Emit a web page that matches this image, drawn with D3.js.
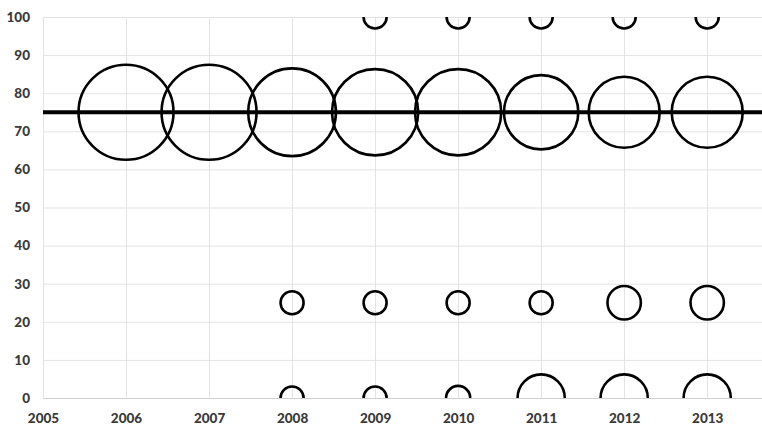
<!DOCTYPE html>
<html>
<head>
<meta charset="utf-8">
<script src="https://cdn.jsdelivr.net/npm/d3@7"></script>
<style>
  html, body { margin: 0; padding: 0; background: #ffffff; }
  svg { display: block; }
  .tick text { font-family: Lato, "Open Sans", sans-serif; font-weight: 900; font-size: 13.5px; fill: #3a3a3a; }
</style>
</head>
<body>
<svg id="chart" width="762" height="427"></svg>
<script>
// ---- data ----
const years = [2006, 2007, 2008, 2009, 2010, 2011, 2012, 2013];
const sizesAt75 = [17, 17, 14.5, 14, 14, 10.4, 9.5, 9.5];
const sizesAt25 = [null, null, 1, 1, 1, 1, 2.1, 2.1];
const sizesAt0 = [null, null, 1, 1, 1.1, 4.2, 4.2, 4.2];
const sizesAt100 = [null, null, null, 1, 1, 1, 1, 1];
const rowValues = [75, 25, 0, 100];
const referenceLine = 75;
const xTickValues = [2005, 2006, 2007, 2008, 2009, 2010, 2011, 2012, 2013];
const yTickValues = [0, 10, 20, 30, 40, 50, 60, 70, 80, 90, 100];

// ---- layout ----
const svg = d3.select("#chart");
const plotLeft = 43, plotRight = 762, plotTop = 17, plotBottom = 398;

const x = d3.scaleLinear().domain([2005, 2013.66]).range([plotLeft, plotRight]);
const y = d3.scaleLinear().domain([0, 100]).range([plotBottom, plotTop]);
const r = d3.scaleSqrt().domain([0, 17]).range([0, 47.5]);

svg.append("defs").append("clipPath").attr("id", "plotClip")
  .append("rect").attr("x", plotLeft).attr("y", plotTop)
  .attr("width", plotRight - plotLeft).attr("height", plotBottom - plotTop);

// grid
const grid = svg.append("g");
grid.selectAll("line.h").data(yTickValues.filter(v => v > 0)).join("line")
  .attr("x1", plotLeft).attr("x2", plotRight)
  .attr("y1", d => y(d) + 0.5).attr("y2", d => y(d) + 0.5)
  .attr("stroke", "#e3e3e3").attr("stroke-width", 1);
grid.selectAll("line.v").data(xTickValues).join("line")
  .attr("x1", d => Math.round(x(d)) + 0.5).attr("x2", d => Math.round(x(d)) + 0.5)
  .attr("y1", plotTop).attr("y2", plotBottom)
  .attr("stroke", "#e3e3e3").attr("stroke-width", 1);
// baseline
svg.append("line").attr("x1", plotLeft).attr("x2", plotRight)
  .attr("y1", y(0) + 0.5).attr("y2", y(0) + 0.5)
  .attr("stroke", "#d0d0d0").attr("stroke-width", 1);

// axes
const yAxis = svg.append("g").attr("transform", `translate(${plotLeft},0)`)
  .call(d3.axisLeft(y).tickValues(yTickValues).tickSize(0).tickPadding(13));
yAxis.select(".domain").remove();

const xAxis = svg.append("g").attr("transform", `translate(0,${plotBottom})`)
  .call(d3.axisBottom(x).tickValues(xTickValues).tickFormat(d3.format("d")).tickSize(0).tickPadding(15.5));
xAxis.select(".domain").remove();

// bubbles
const series = [sizesAt75, sizesAt25, sizesAt0, sizesAt100];
const bubbles = [];
series.forEach((arr, i) => {
  arr.forEach((s, j) => {
    if (s != null) bubbles.push({ year: years[j], value: rowValues[i], size: s });
  });
});

const plot = svg.append("g").attr("clip-path", "url(#plotClip)");
plot.selectAll("circle").data(bubbles).join("circle")
  .attr("cx", d => x(d.year))
  .attr("cy", d => y(d.value))
  .attr("r", d => r(d.size))
  .attr("fill", "none")
  .attr("stroke", "#000")
  .attr("stroke-width", 2.6);

// reference line
plot.append("line")
  .attr("x1", plotLeft).attr("x2", plotRight)
  .attr("y1", y(referenceLine)).attr("y2", y(referenceLine))
  .attr("stroke", "#000").attr("stroke-width", 4);
</script>
</body>
</html>
